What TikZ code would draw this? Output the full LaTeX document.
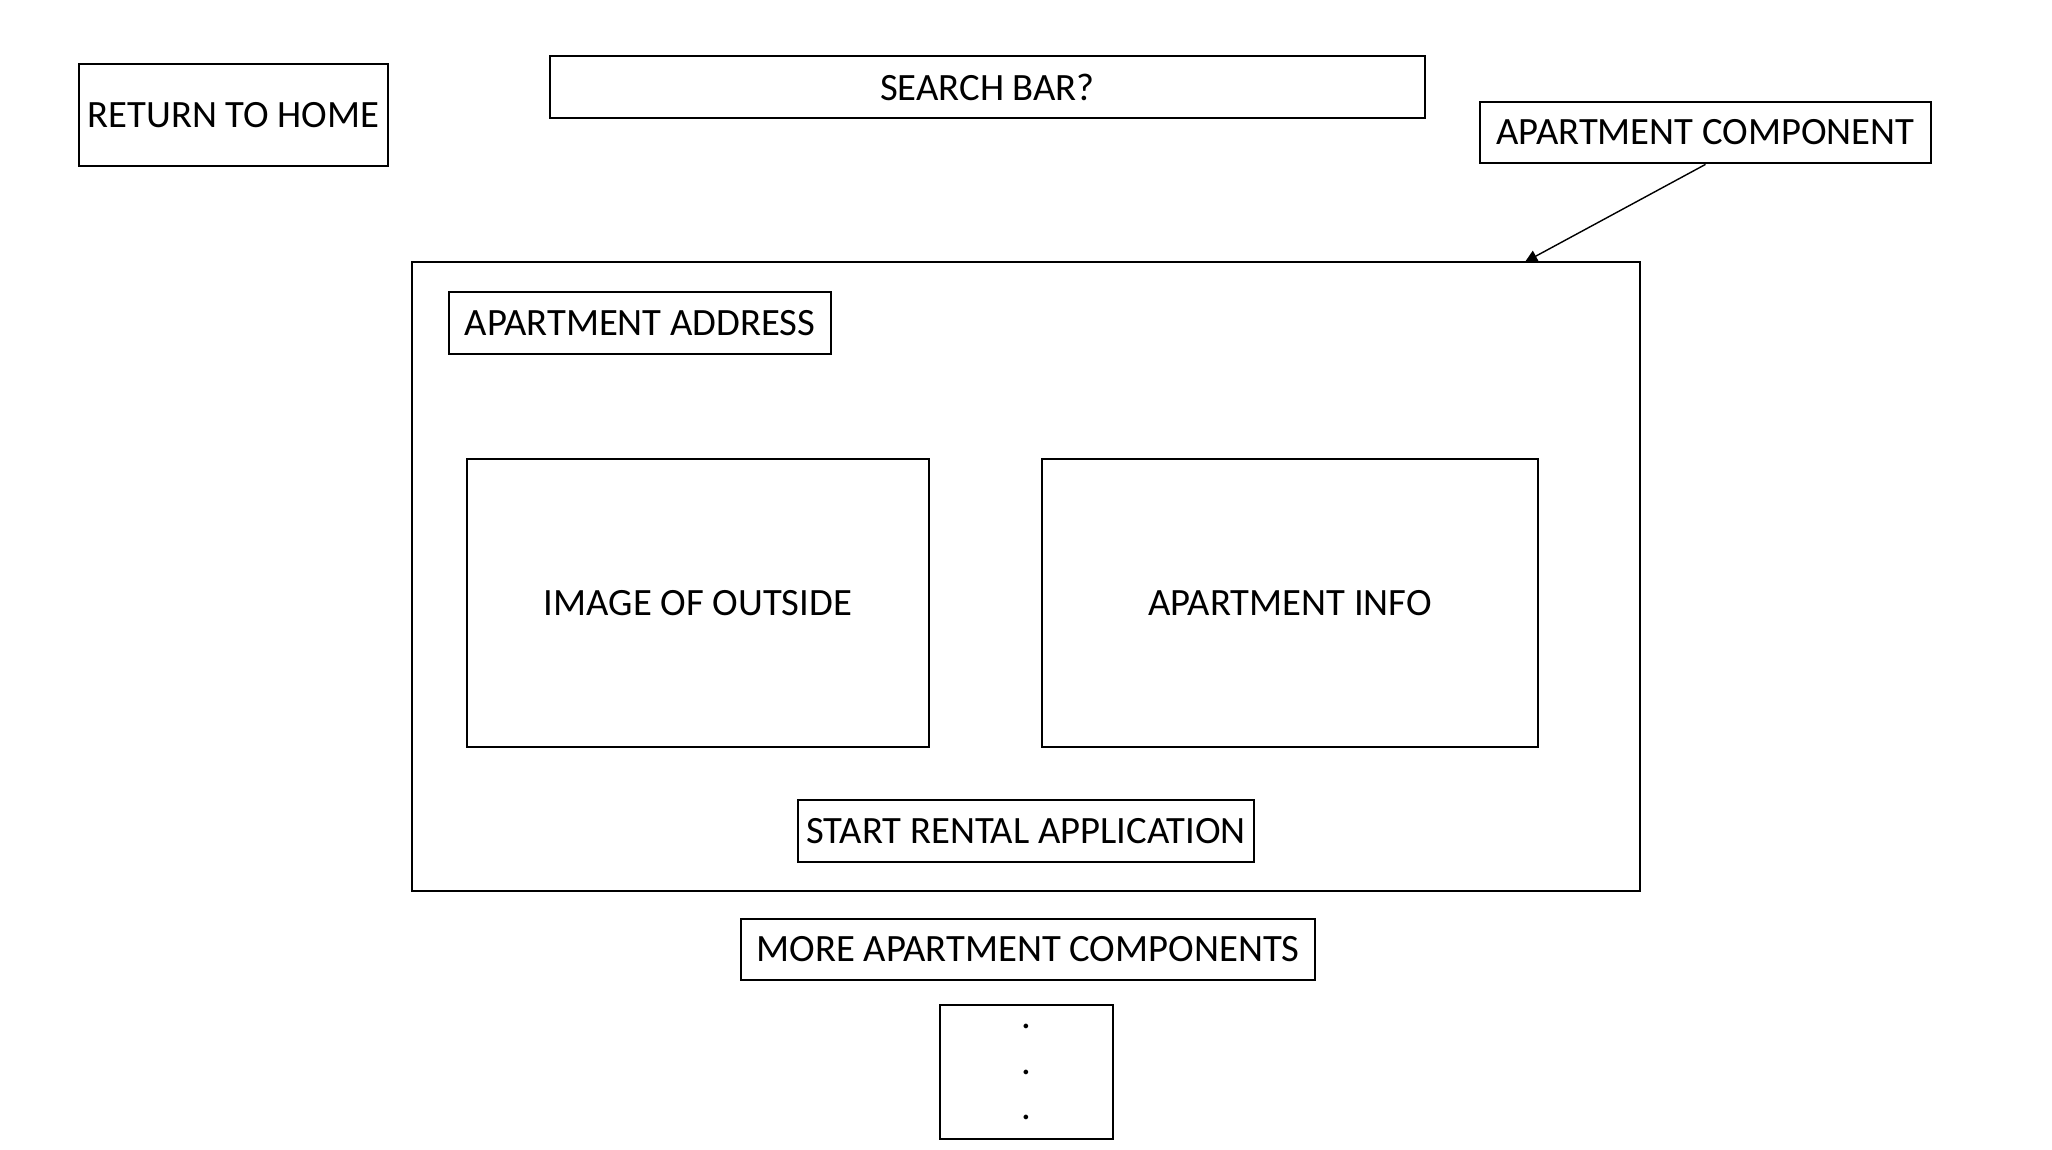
\documentclass[tikz,border=0pt]{standalone}
\usepackage{fontspec}
\setmainfont{Carlito}
\usetikzlibrary{arrows.meta,positioning}

\begin{document}
\begin{tikzpicture}[
  box/.style={draw, line width=0.8pt, inner sep=0pt, font=\fontsize{11}{13}\selectfont, align=center},
  >={Triangle[width=3.5pt,length=3.5pt]}
]
\useasboundingbox (0,0) rectangle (20.52,-11.50);
\node[box, minimum width=3.09cm, minimum height=1.02cm] (ret) at (2.335,-1.15) {RETURN TO HOME};
\node[box, minimum width=8.75cm, minimum height=0.62cm] (search) at (9.875,-0.87) {SEARCH BAR?};
\node[box, minimum width=4.51cm, minimum height=0.61cm] (aptcomp) at (17.055,-1.325) {APARTMENT COMPONENT};

\node[box, minimum width=12.28cm, minimum height=6.29cm] (main) at (10.26,-5.765) {};
\node[box, minimum width=3.82cm, minimum height=0.62cm] (addr) at (6.40,-3.23) {APARTMENT ADDRESS};
\node[box, minimum width=4.62cm, minimum height=2.88cm] (img) at (6.98,-6.03) {IMAGE OF OUTSIDE};
\node[box, minimum width=4.96cm, minimum height=2.88cm] (info) at (12.90,-6.03) {APARTMENT INFO};
\node[box, minimum width=4.56cm, minimum height=0.62cm] (rental) at (10.26,-8.31) {START RENTAL APPLICATION};

\node[box, minimum width=5.74cm, minimum height=0.61cm] (more) at (10.28,-9.495) {MORE APARTMENT COMPONENTS};
\node[box, minimum width=1.73cm, minimum height=1.34cm] (dots) at (10.265,-10.72) {.\\.\\.};

\coordinate (tip) at (15.25,-2.62);
\draw[->, line width=0.4pt] (aptcomp.south) -- (tip);
\end{tikzpicture}
\end{document}
